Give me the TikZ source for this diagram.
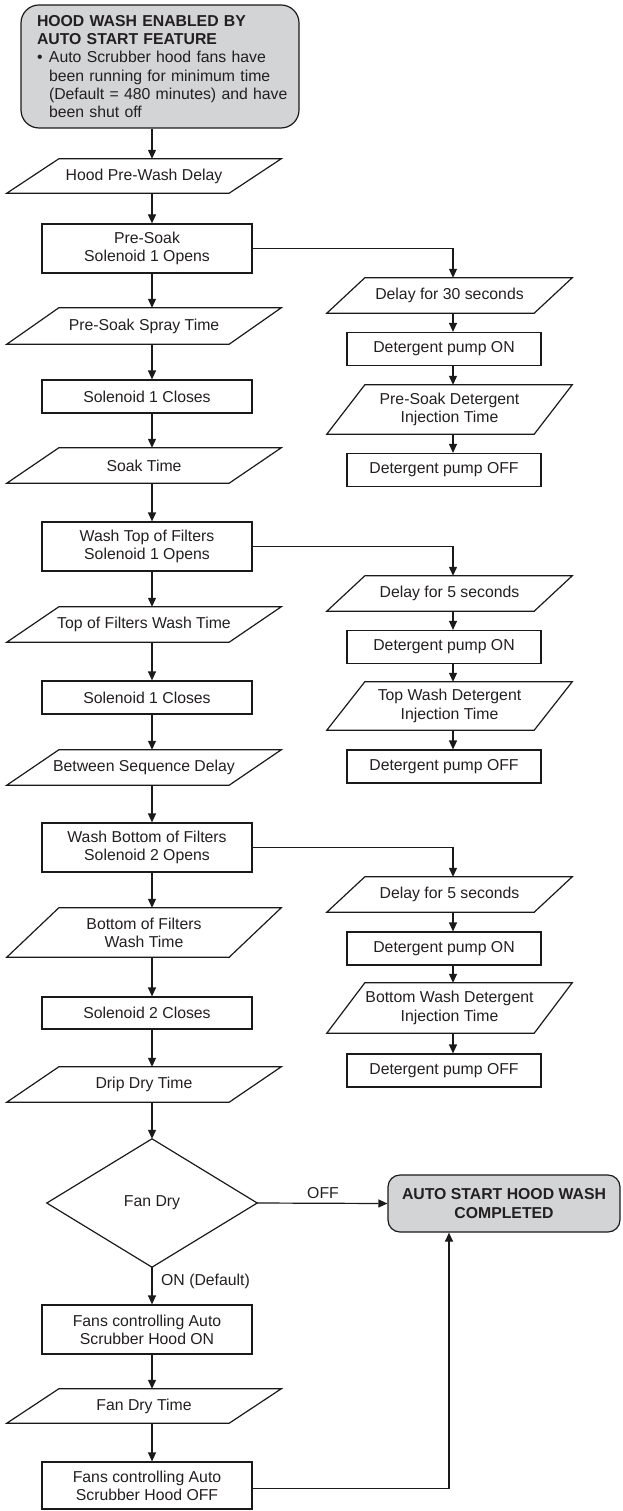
\documentclass[tikz,border=0pt]{standalone}
\usepackage{fontspec}
\setmainfont{Liberation Sans}
\usetikzlibrary{arrows.meta,calc}
\definecolor{linec}{HTML}{1A1A1A}
\definecolor{txtc}{HTML}{231F20}
\definecolor{boxfill}{HTML}{D3D4D6}
\tikzset{
  line/.style={draw=linec, line width=1.2pt},
  arr/.style={line, -{Triangle[length=9pt,width=8pt]}},
  rectbox/.style={line, inner sep=0pt, align=center, text=txtc, font=\fs},
  mainrect/.style={rectbox, minimum width=210pt},
  siderect/.style={rectbox, minimum width=194pt, minimum height=33pt},
  ptext/.style={inner sep=0pt, align=center, text=txtc, font=\fs},
  lbl/.style={inner sep=0pt, text=txtc, font=\fs},
  endbox/.style={line, fill=boxfill, rounded corners=12pt, inner sep=0pt, align=center, text=txtc, font=\fs\bfseries}
}
\newcommand\fs{\fontsize{15.8}{18.3}\selectfont}
% name, cx, cy, width, height, skew, text
\newcommand\paral[7]{%
  \node[ptext, minimum width=#4pt, minimum height=#5pt] (#1) at (#2,#3) {#7};
  \draw[line] (#1.south west) -- ([xshift=-#6pt]#1.south east) -- (#1.north east) -- ([xshift=#6pt]#1.north west) -- cycle;}
\begin{document}
\begin{tikzpicture}[x=1pt,y=-1pt]
\useasboundingbox (0,0) rectangle (622,1511);
\coordinate (colx) at (152,0);
\coordinate (rcolx) at (453,0);
\coordinate (endx) at (449,0);

% top box
\node[line, fill=boxfill, rounded corners=18pt, minimum width=278pt, minimum height=123pt,
      text width=246pt, inner sep=0pt, align=left, text=txtc, font=\fs] (start) at (160,66.5)
 {\mbox{\textbf{HOOD WASH ENABLED BY}}\\\mbox{\textbf{AUTO START FEATURE}}\\
  \mbox{\makebox[12pt][l]{•}Auto Scrubber hood fans have}\\
  \mbox{\hspace*{12pt}been running for minimum time}\\
  \mbox{\hspace*{12pt}(Default = 480 minutes) and have}\\
  \mbox{\hspace*{12pt}been shut off}};

% main column
\paral{prewash}{144}{176}{274}{34}{52}{Hood Pre-Wash Delay}
\node[mainrect, minimum height=49pt] (presoak) at (147,248.5) {Pre-Soak\\Solenoid 1 Opens};
\paral{spray}{144}{326}{274}{36}{52}{Pre-Soak Spray Time}
\node[mainrect, minimum height=33pt] (solA) at (147,396.5) {Solenoid 1 Closes};
\paral{soak}{144}{465.5}{274}{35}{52}{Soak Time}
\node[mainrect, minimum height=49pt] (washtop) at (147,546.5) {Wash Top of Filters\\Solenoid 1 Opens};
\paral{topwt}{144}{624.5}{274}{35}{52}{Top of Filters Wash Time}
\node[mainrect, minimum height=33pt] (solB) at (147,697.5) {Solenoid 1 Closes};
\paral{between}{144}{767.5}{274}{35}{52}{Between Sequence Delay}
\node[mainrect, minimum height=49pt] (washbot) at (147,847.5) {Wash Bottom of Filters\\Solenoid 2 Opens};
\paral{botwt}{144}{932.5}{274}{49}{52}{Bottom of Filters\\Wash Time}
\node[mainrect, minimum height=32pt] (solC) at (147,1013) {Solenoid 2 Closes};
\paral{drip}{144}{1084.5}{274}{35}{52}{Drip Dry Time}
\node[ptext, minimum width=210pt, minimum height=128pt] (fandry) at (152,1203) {Fan Dry};
\draw[line] (fandry.north) -- (fandry.east) -- (fandry.south) -- (fandry.west) -- cycle;
\node[mainrect, minimum height=49pt] (fanson) at (147,1329.5) {Fans controlling Auto\\Scrubber Hood ON};
\paral{fandrytime}{144}{1406}{274}{34}{52}{Fan Dry Time}
\node[mainrect, minimum height=47pt] (fansoff) at (147,1485.5) {Fans controlling Auto\\Scrubber Hood OFF};

\node[endbox, minimum width=232pt, minimum height=57pt] (done) at (504,1203.5) {AUTO START HOOD WASH\\COMPLETED};

% right column group 1
\paral{dA}{449.5}{295.5}{245}{35}{38}{Delay for 30 seconds}
\node[siderect] (onA) at (444,349) {Detergent pump ON};
\paral{injA}{449.5}{409.5}{245}{49}{38}{Pre-Soak Detergent\\Injection Time}
\node[siderect] (offA) at (444,470) {Detergent pump OFF};
% group 2
\paral{dB}{449.5}{593.5}{245}{35}{38}{Delay for 5 seconds}
\node[siderect] (onB) at (444,647) {Detergent pump ON};
\paral{injB}{449.5}{706}{245}{48}{38}{Top Wash Detergent\\Injection Time}
\node[siderect] (offB) at (444,766.5) {Detergent pump OFF};
% group 3
\paral{dC}{449.5}{894.5}{245}{35}{38}{Delay for 5 seconds}
\node[siderect] (onC) at (444,948.5) {Detergent pump ON};
\paral{injC}{449.5}{1008}{245}{50}{38}{Bottom Wash Detergent\\Injection Time}
\node[siderect] (offC) at (444,1070.5) {Detergent pump OFF};

% main connectors
\foreach \a/\b in {start/prewash, prewash/presoak, presoak/spray, spray/solA, solA/soak,
  soak/washtop, washtop/topwt, topwt/solB, solB/between, between/washbot, washbot/botwt,
  botwt/solC, solC/drip, drip/fandry, fandry/fanson, fanson/fandrytime, fandrytime/fansoff}
  \draw[arr] (\a.south -| colx) -- (\b.north -| colx);

% side connectors
\foreach \a/\b in {dA/onA, onA/injA, injA/offA, dB/onB, onB/injB, injB/offB, dC/onC, onC/injC, injC/offC}
  \draw[arr] (\a.south -| rcolx) -- (\b.north -| rcolx);
\draw[arr] (presoak.east) -| (dA.north -| rcolx);
\draw[arr] (washtop.east) -| (dB.north -| rcolx);
\draw[arr] (washbot.east) -| (dC.north -| rcolx);

% decision
\draw[arr] (fandry.east) -- (done.west);
\node[lbl] (offl) at (323,1193) {OFF};
\node[lbl, anchor=west] (onl) at (161,1281) {ON (Default)};
\draw[arr] ([yshift=-3pt]fansoff.east) -| (done.south -| endx);
\end{tikzpicture}
\end{document}
